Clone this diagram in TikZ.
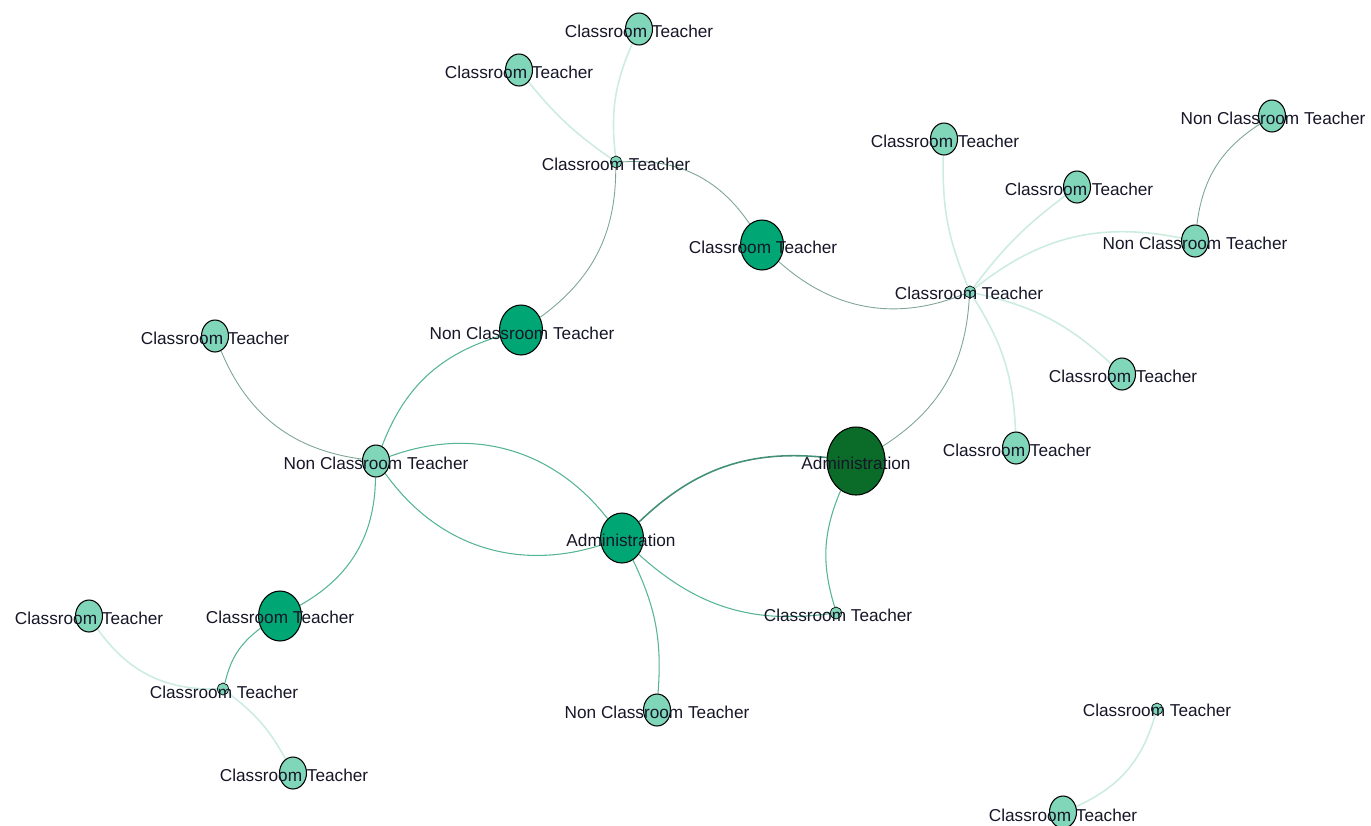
\documentclass[tikz,border=0pt]{standalone}
\usepackage{fontspec}
\setmainfont{Liberation Sans}
\usetikzlibrary{shapes.geometric,backgrounds}
\definecolor{lightn}{RGB}{128,214,184}
\definecolor{midn}{RGB}{0,166,116}
\definecolor{darkn}{RGB}{10,108,40}
\definecolor{edgec}{RGB}{85,180,148}
\definecolor{edgeg}{RGB}{125,165,150}
\definecolor{faintc}{RGB}{205,236,225}
\definecolor{txt}{RGB}{22,22,40}
\begin{document}
\begin{tikzpicture}[x=0.02cm,y=-0.02cm,
  nd/.style={ellipse,draw=black,line width=0.6pt,inner sep=0pt},
  smallnode/.style={nd,fill=lightn,minimum width=0.54cm,minimum height=0.64cm},
  midnode/.style={nd,fill=midn,minimum width=0.86cm,minimum height=1.0cm},
  bignode/.style={nd,fill=darkn,minimum width=1.16cm,minimum height=1.36cm},
  tinynode/.style={nd,fill=lightn,minimum width=0.22cm,minimum height=0.24cm,line width=0.4pt},
  lbl/.style={font=\fontsize{9.8}{11}\selectfont,text=txt,inner sep=0pt},
  ed/.style={draw=edgec,line width=0.6pt},
  edg/.style={draw=edgeg,line width=0.5pt},
  edthick/.style={draw=edgec!80!black,line width=0.9pt},
  fe/.style={draw=faintc,line width=0.9pt}]
\useasboundingbox (0,0) rectangle (1371,825);

% nodes
\node[bignode] (A1) at (856,461) {};
\node[midnode] (A2) at (622,538) {};
\node[smallnode] (N1) at (376,461) {};
\node[midnode] (N2) at (521,330) {};
\node[smallnode] (C1) at (215,336) {};
\node[midnode] (C2) at (280,616) {};
\node[smallnode] (C3) at (89,616) {};
\node[tinynode] (C4) at (223,689) {};
\node[smallnode] (C5) at (293,773) {};
\node[smallnode] (N3) at (657,710) {};
\node[tinynode] (C6) at (836,613) {};
\node[tinynode] (C7) at (616,162) {};
\node[smallnode] (C8) at (519,70) {};
\node[smallnode] (C9) at (639,29) {};
\node[midnode] (C10) at (762,245) {};
\node[tinynode] (C11) at (970,292) {};
\node[smallnode] (C12) at (944,139) {};
\node[smallnode] (C13) at (1077,187) {};
\node[smallnode] (N4) at (1272,116) {};
\node[smallnode] (N5) at (1195,241) {};
\node[smallnode] (C14) at (1122,374) {};
\node[smallnode] (C15) at (1016,448) {};
\node[tinynode] (C16) at (1157,709) {};
\node[smallnode] (C17) at (1063,812) {};

% labels
\node[lbl] (lA1) at (856,463) {Administration};
\node[lbl] (lA2) at (621,540) {Administration};
\node[lbl] (lN1) at (376,463) {Non Classroom Teacher};
\node[lbl] (lN2) at (522,333) {Non Classroom Teacher};
\node[lbl] (lC1) at (215,338) {Classroom Teacher};
\node[lbl] (lC2) at (280,617) {Classroom Teacher};
\node[lbl] (lC3) at (89,618) {Classroom Teacher};
\node[lbl] (lC4) at (224,692) {Classroom Teacher};
\node[lbl] (lC5) at (294,775) {Classroom Teacher};
\node[lbl] (lN3) at (657,712) {Non Classroom Teacher};
\node[lbl] (lC6) at (838,615) {Classroom Teacher};
\node[lbl] (lC7) at (616,164) {Classroom Teacher};
\node[lbl] (lC8) at (519,72) {Classroom Teacher};
\node[lbl] (lC9) at (639,31) {Classroom Teacher};
\node[lbl] (lC10) at (763,247) {Classroom Teacher};
\node[lbl] (lC11) at (969,293) {Classroom Teacher};
\node[lbl] (lC12) at (945,141) {Classroom Teacher};
\node[lbl] (lC13) at (1079,189) {Classroom Teacher};
\node[lbl] (lN4) at (1273,118) {Non Classroom Teacher};
\node[lbl] (lN5) at (1195,243) {Non Classroom Teacher};
\node[lbl] (lC14) at (1123,376) {Classroom Teacher};
\node[lbl] (lC15) at (1017,450) {Classroom Teacher};
\node[lbl] (lC16) at (1157,710) {Classroom Teacher};
\node[lbl] (lC17) at (1063,815) {Classroom Teacher};

% edges
\begin{pgfonlayer}{background}
\draw[fe] (C3) to[bend right=28] (C4);
\draw[fe] (C4) to[bend left=12] (C5);
\draw[fe] (C8) to[bend right=8] (C7);
\draw[fe] (C9) to[bend right=15] (C7);
\draw[fe] (C12) to[bend right=12] (C11);
\draw[fe] (C13) to[bend right=8] (C11);
\draw[fe] (C11) to[bend left=25] (N5);
\draw[fe] (C11) to[bend left=15] (C14);
\draw[fe] (C11) to[bend left=15] (C15);
\draw[fe] (C16) to[bend left=25] (C17);
\draw[edthick] (A2) to[bend left=25] (A1);
\draw[ed] (A1) to[bend right=20] (C6);
\draw[ed] (A2) to[bend right=25] (C6);
\draw[ed] (A2) to[bend left=15] (N3);
\draw[ed] (N1) to[bend left=36] (A2);
\draw[ed] (N1) to[bend right=36] (A2);
\draw[ed] (N1) to[bend left=26] (N2);
\draw[edg] (N2) to[bend right=27] (C7);
\draw[edg] (C7) to[bend left=30] (C10);
\draw[edg] (C10) to[bend right=32] (C11);
\draw[edg] (A1) to[bend right=27] (C11);
\draw[edg] (C1) to[bend right=30] (N1);
\draw[ed] (N1) to[bend left=30] (C2);
\draw[ed] (C2) to[bend right=20] (C4);
\draw[edg] (N4) to[bend right=25] (N5);
\end{pgfonlayer}
\end{tikzpicture}
\end{document}
